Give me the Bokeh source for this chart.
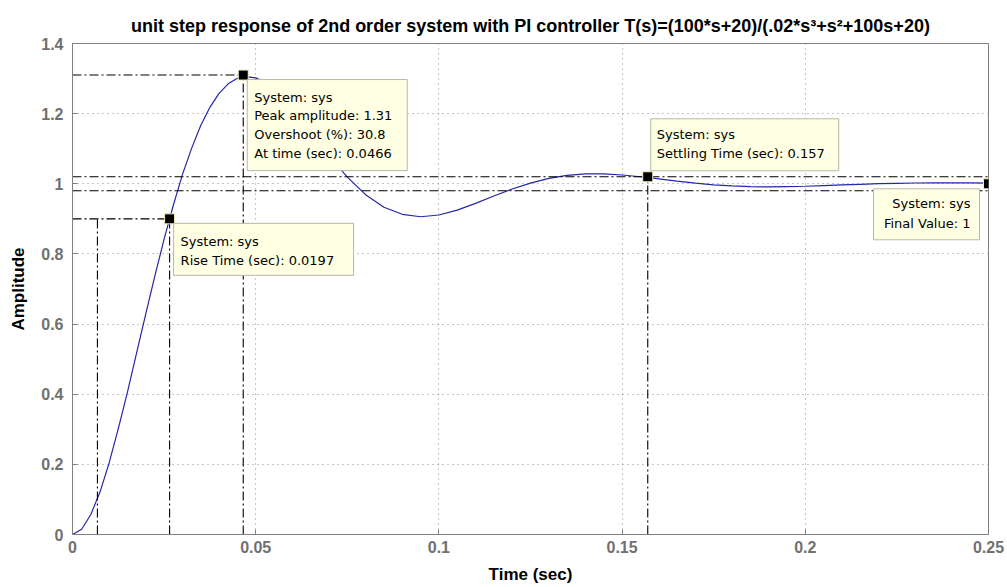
from bokeh.plotting import figure
from bokeh.models import Range1d, FixedTicker, Label
from bokeh.embed import file_html
from bokeh.resources import INLINE

# ---------------- data ----------------
time_s = [0.0, 0.0025, 0.005, 0.0075, 0.01, 0.0125, 0.015, 0.0175, 0.02, 0.0225,
          0.025, 0.0275, 0.03, 0.0325, 0.035, 0.0375, 0.04, 0.0425, 0.045, 0.0466,
          0.05, 0.0525, 0.055, 0.06, 0.065, 0.07, 0.075, 0.08, 0.085, 0.09, 0.095,
          0.1, 0.105, 0.11, 0.115, 0.12, 0.125, 0.13, 0.135, 0.14, 0.145, 0.15,
          0.155, 0.16, 0.165, 0.17, 0.175, 0.18, 0.185, 0.19, 0.195, 0.2, 0.205,
          0.21, 0.215, 0.22, 0.225, 0.23, 0.235, 0.24, 0.245, 0.25]
amplitude = [0.0, 0.015, 0.057, 0.121, 0.204, 0.302, 0.406, 0.518, 0.629, 0.738,
             0.842, 0.938, 1.026, 1.101, 1.166, 1.218, 1.258, 1.285, 1.301, 1.306,
             1.302, 1.290, 1.269, 1.215, 1.148, 1.080, 1.019, 0.969, 0.933, 0.913, 0.906,
             0.911, 0.925, 0.944, 0.965, 0.985, 1.002, 1.0155, 1.024, 1.028, 1.028, 1.025,
             1.020, 1.014, 1.0077, 1.002, 0.997, 0.994, 0.992, 0.991, 0.992, 0.993, 0.995,
             0.997, 0.9986, 1.0002, 1.0014, 1.0022, 1.0026, 1.0027, 1.0024, 1.0019]

x_ticks = [0, 0.05, 0.1, 0.15, 0.2, 0.25]
y_ticks = [0, 0.2, 0.4, 0.6, 0.8, 1.0, 1.2, 1.4]

peak_time, peak_amp, overshoot = 0.0466, 1.31, 30.8
rise_start, rise_end, rise_time, rise_level = 0.0068, 0.0265, 0.0197, 0.9
settle_time, settle_amp, settle_lo, settle_hi = 0.157, 1.02, 0.98, 1.02
final_time, final_value = 0.25, 1.0

title_text = "unit step response of 2nd order system with PI controller T(s)=(100*s+20)/(.02*s\u00b3+s\u00b2+100s+20)"

# ---------------- figure ----------------
X0, X1, Y0, Y1 = 0, 0.25, 0, 1.4
FL, FR, FT, FB = 72, 19, 43, 53
W, H = 1007, 587
FW, FH = W - FL - FR, H - FT - FB
PX = (X1 - X0) / FW
PY = (Y1 - Y0) / FH

p = figure(width=W, height=H, output_backend="svg", toolbar_location=None,
           x_range=Range1d(X0, X1), y_range=Range1d(Y0, Y1),
           min_border_left=FL, min_border_right=FR, min_border_top=FT, min_border_bottom=FB,
           title=title_text)
p.background_fill_color = "white"
p.border_fill_color = "white"
p.outline_line_color = "#808080"
p.outline_line_width = 1

p.title.text_font = "Liberation Sans"
p.title.text_font_size = "18px"
p.title.text_font_style = "bold"
p.title.text_color = "black"
p.title.align = "center"
p.title.standoff = 16

for ax in (p.xaxis[0], p.yaxis[0]):
    ax.axis_line_color = "#808080"
    ax.major_tick_line_color = "#808080"
    ax.major_tick_in = 5
    ax.major_tick_out = 0
    ax.minor_tick_line_color = None
    ax.major_label_text_font = "Liberation Sans"
    ax.major_label_text_font_style = "bold"
    ax.major_label_text_font_size = "16px"
    ax.major_label_text_color = "#707070"
    ax.axis_label_text_font = "Liberation Sans"
    ax.axis_label_text_font_style = "bold"
    ax.axis_label_text_font_size = "17px"
    ax.axis_label_text_color = "black"

p.xaxis.ticker = FixedTicker(ticks=x_ticks)
p.yaxis.ticker = FixedTicker(ticks=y_ticks)
p.xaxis.major_label_overrides = {0: "0", 0.25: "0.25"}
p.yaxis.major_label_overrides = {0: "0", 1.0: "1"}
p.xaxis.axis_label = "Time (sec)"
p.yaxis.axis_label = "Amplitude"
p.xaxis.major_label_standoff = 6
p.xaxis.axis_label_standoff = 9
p.yaxis.major_label_standoff = 9
p.yaxis.axis_label_standoff = 10

p.xgrid.grid_line_color = "#8a8a8a"
p.ygrid.grid_line_color = "#8a8a8a"
p.xgrid.grid_line_dash = "1 4"
p.ygrid.grid_line_dash = "1 4"
p.xgrid.grid_line_width = 1
p.ygrid.grid_line_width = 1

# ---------------- curve ----------------
p.line(time_s, amplitude, line_color="#2626a8", line_width=1.2)

# ---------------- characteristic lines ----------------
DASH = "9 3 2 3"
seg_x0 = [X0, peak_time, X0, rise_start, rise_end, X0, X0, settle_time]
seg_y0 = [peak_amp, Y0, rise_level, Y0, Y0, settle_hi, settle_lo, Y0]
seg_x1 = [peak_time, peak_time, rise_end, rise_start, rise_end, X1, X1, settle_time]
seg_y1 = [peak_amp, peak_amp, rise_level, rise_level, rise_level, settle_hi, settle_lo, settle_amp]
p.segment(seg_x0, seg_y0, seg_x1, seg_y1, line_color="black", line_width=1.1, line_dash=DASH)

# markers
p.scatter([peak_time, rise_end, settle_time, final_time],
          [peak_amp, rise_level, settle_amp, final_value],
          marker="square", size=10, fill_color="black", line_color="#f0f0c0", line_width=1)

# ---------------- data tips ----------------
def tip(ax_, ay_, left, top, w, h, lines, tx, ty, align="left"):
    # left/top/tx/ty: pixel offsets from anchor (right / down positive)
    x_l = ax_ + left * PX
    x_r = ax_ + (left + w) * PX
    y_t = ay_ - top * PY
    y_b = ay_ - (top + h) * PY
    p.quad(left=[x_l], right=[x_r], top=[y_t], bottom=[y_b],
           fill_color="#ffffe3", line_color="#b8b8a8", line_width=1)
    for i, s in enumerate(lines):
        p.add_layout(Label(x=ax_, y=ay_, x_offset=tx, y_offset=-ty[i], text=s,
                           text_font="DejaVu Sans", text_font_size="13px",
                           text_color="black", text_baseline="middle", text_align=align))

tip(peak_time, peak_amp, 4, 4.5, 160, 91,
    ["System: sys", f"Peak amplitude: {peak_amp}", f"Overshoot (%): {overshoot}",
     f"At time (sec): {peak_time}"], 11, [22.5, 40.5, 59.5, 78.5])
tip(rise_end, rise_level, 4, 4.5, 180, 52,
    ["System: sys", f"Rise Time (sec): {rise_time}"], 11, [22.5, 41.5])
tip(settle_time, settle_amp, 3, -58, 188, 52,
    ["System: sys", f"Settling Time (sec): {settle_time}"], 9, [-42, -23])
tip(final_time, final_value, -115, 5, 106, 51,
    ["System: sys", f"Final Value: {final_value:g}"], -18, [20, 40], align="right")

open("out.html", "w").write(file_html(p, INLINE))
